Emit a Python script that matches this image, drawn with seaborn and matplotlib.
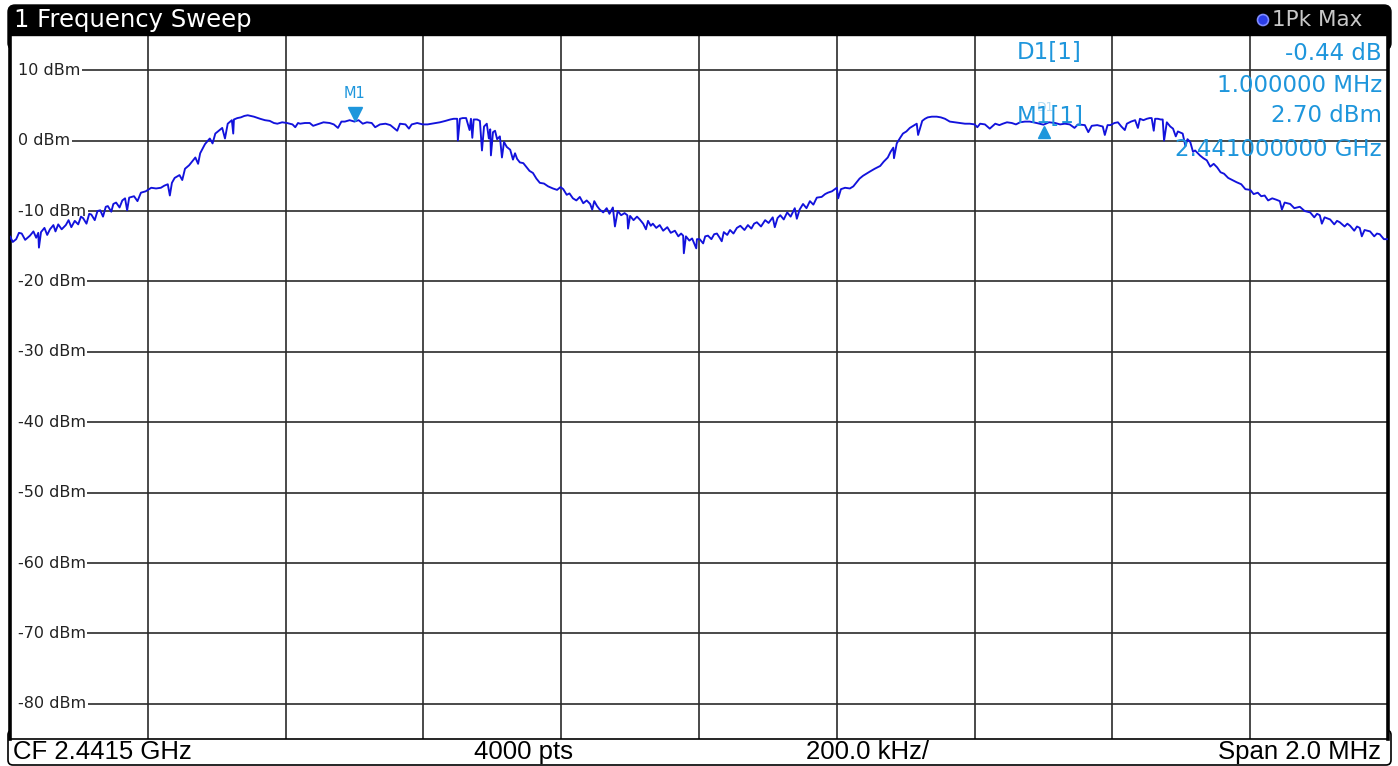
import matplotlib
matplotlib.use("Agg")
import matplotlib.pyplot as plt
import matplotlib.transforms as mtransforms
from matplotlib.patches import FancyBboxPatch, Circle, Rectangle
import pandas as pd
import seaborn as sns

# ---------------- data ----------------
# frequency offset from centre frequency (MHz), CF = 2.4415 GHz, span 2 MHz
offset_mhz = [
    -1.000, -0.996, -0.991, -0.987, -0.983, -0.978, -0.971, -0.966, -0.962, -0.959,
    -0.958, -0.955, -0.950, -0.946, -0.942, -0.937, -0.934, -0.930, -0.925, -0.919,
    -0.915, -0.911, -0.906, -0.901, -0.897, -0.894, -0.889, -0.885, -0.882, -0.877,
    -0.873, -0.869, -0.865, -0.861, -0.858, -0.853, -0.850, -0.846, -0.841, -0.837,
    -0.833, -0.830, -0.827, -0.820, -0.815, -0.810, -0.803, -0.795, -0.788, -0.781,
    -0.776, -0.771, -0.768, -0.765, -0.761, -0.754, -0.750, -0.746, -0.740, -0.735,
    -0.731, -0.727, -0.724, -0.717, -0.710, -0.706, -0.702, -0.692, -0.688, -0.684,
    -0.678, -0.676, -0.675, -0.670, -0.665, -0.660, -0.655, -0.646, -0.637, -0.630,
    -0.623, -0.617, -0.612, -0.605, -0.598, -0.590, -0.586, -0.582, -0.579, -0.572,
    -0.565, -0.560, -0.554, -0.545, -0.536, -0.530, -0.524, -0.519, -0.514, -0.507,
    -0.500, -0.494, -0.488, -0.482, -0.475, -0.470, -0.463, -0.455, -0.448, -0.438,
    -0.434, -0.426, -0.421, -0.417, -0.409, -0.401, -0.394, -0.388, -0.382, -0.376,
    -0.368, -0.361, -0.356, -0.351, -0.350, -0.347, -0.343, -0.338, -0.333, -0.331,
    -0.329, -0.327, -0.322, -0.318, -0.315, -0.312, -0.308, -0.305, -0.303, -0.302,
    -0.299, -0.296, -0.293, -0.289, -0.286, -0.283, -0.279, -0.274, -0.270, -0.267,
    -0.264, -0.260, -0.255, -0.250, -0.246, -0.241, -0.236, -0.231, -0.225, -0.219,
    -0.212, -0.206, -0.201, -0.197, -0.192, -0.188, -0.183, -0.178, -0.173, -0.168,
    -0.163, -0.158, -0.155, -0.152, -0.148, -0.144, -0.139, -0.134, -0.130, -0.125,
    -0.122, -0.118, -0.113, -0.108, -0.104, -0.103, -0.100, -0.095, -0.090, -0.086,
    -0.081, -0.077, -0.074, -0.070, -0.067, -0.062, -0.057, -0.052, -0.046, -0.041,
    -0.035, -0.030, -0.026, -0.023, -0.022, -0.019, -0.014, -0.010, -0.004, -0.003,
    0.001, 0.006, 0.009, 0.013, 0.018, 0.022, 0.026, 0.030, 0.033, 0.036,
    0.041, 0.045, 0.050, 0.055, 0.060, 0.066, 0.071, 0.076, 0.080, 0.084,
    0.090, 0.096, 0.101, 0.107, 0.110, 0.114, 0.118, 0.123, 0.128, 0.133,
    0.139, 0.142, 0.146, 0.151, 0.156, 0.161, 0.166, 0.171, 0.178, 0.183,
    0.187, 0.193, 0.200, 0.202, 0.206, 0.212, 0.219, 0.224, 0.228, 0.233,
    0.238, 0.243, 0.248, 0.255, 0.263, 0.268, 0.274, 0.278, 0.282, 0.283,
    0.287, 0.292, 0.296, 0.301, 0.306, 0.311, 0.316, 0.318, 0.324, 0.328,
    0.332, 0.338, 0.345, 0.351, 0.357, 0.364, 0.371, 0.379, 0.386, 0.393,
    0.400, 0.404, 0.408, 0.415, 0.422, 0.430, 0.436, 0.441, 0.447, 0.454,
    0.460, 0.466, 0.473, 0.480, 0.490, 0.500, 0.508, 0.517, 0.524, 0.531,
    0.538, 0.545, 0.550, 0.560, 0.565, 0.570, 0.578, 0.586, 0.589, 0.593,
    0.597, 0.603, 0.608, 0.613, 0.618, 0.621, 0.627, 0.633, 0.637, 0.640,
    0.645, 0.650, 0.654, 0.657, 0.660, 0.662, 0.666, 0.670, 0.673, 0.675,
    0.679, 0.684, 0.688, 0.692, 0.695, 0.702, 0.706, 0.709, 0.713, 0.717,
    0.720, 0.727, 0.732, 0.737, 0.742, 0.747, 0.752, 0.757, 0.762, 0.768,
    0.774, 0.780, 0.787, 0.793, 0.800, 0.805, 0.811, 0.816, 0.821, 0.826,
    0.832, 0.838, 0.843, 0.846, 0.850, 0.858, 0.864, 0.872, 0.879, 0.887,
    0.893, 0.897, 0.901, 0.904, 0.908, 0.916, 0.922, 0.926, 0.930, 0.937,
    0.941, 0.945, 0.951, 0.955, 0.959, 0.962, 0.966, 0.974, 0.980, 0.984,
    0.988, 0.994, 1.000,
]
level_dbm = [
    -13.6, -14.4, -14.0, -13.1, -13.2, -14.1, -13.5, -12.9, -13.8, -13.1,
    -15.2, -13.0, -12.4, -13.4, -12.6, -12.0, -12.9, -11.9, -12.6, -12.0,
    -11.3, -12.3, -11.4, -11.9, -10.8, -11.0, -11.8, -10.4, -10.5, -11.3,
    -10.0, -9.9, -10.8, -9.4, -9.3, -10.1, -9.0, -8.8, -9.5, -8.5,
    -8.2, -9.9, -8.1, -7.9, -8.6, -7.4, -7.2, -6.7, -6.8, -6.7,
    -6.4, -6.2, -7.8, -6.0, -5.3, -4.9, -5.6, -4.0, -3.5, -2.9,
    -2.4, -3.3, -1.8, -0.5, 0.3, -0.4, 1.0, 1.8, 0.3, 2.4,
    2.9, 1.0, 3.0, 3.2, 3.3, 3.5, 3.6, 3.4, 3.1, 2.9,
    2.8, 2.5, 2.4, 2.6, 2.5, 2.3, 1.9, 2.5, 2.4, 2.5,
    2.5, 2.1, 2.3, 2.6, 2.5, 2.3, 1.8, 2.7, 2.7, 2.9,
    2.70, 2.9, 2.4, 2.6, 2.5, 1.9, 2.3, 2.4, 2.2, 1.4,
    2.4, 2.3, 1.7, 2.3, 2.5, 2.3, 2.3, 2.4, 2.5, 2.6,
    2.8, 3.0, 3.1, 3.1, 0.0, 3.1, 3.2, 3.2, 1.5, 3.1,
    0.4, 3.0, 3.0, 2.8, -1.4, 2.0, 2.4, 0.3, 1.6, -2.1,
    1.2, 1.4, 0.2, 0.6, -2.4, -0.2, -0.9, -1.3, -2.7, -1.8,
    -2.6, -3.1, -3.2, -3.8, -4.3, -4.6, -5.4, -6.0, -6.1, -6.5,
    -6.8, -7.0, -6.6, -6.9, -7.7, -7.5, -8.2, -8.5, -8.0, -8.9,
    -8.5, -9.0, -9.8, -8.6, -9.3, -9.8, -10.2, -9.6, -10.4, -9.5,
    -12.2, -10.0, -10.6, -10.3, -10.6, -12.5, -10.7, -11.3, -10.8, -11.2,
    -11.8, -12.6, -11.4, -12.1, -11.8, -12.4, -12.0, -12.8, -12.3, -13.1,
    -12.8, -13.6, -13.2, -13.5, -16.0, -13.6, -14.2, -13.9, -15.3, -14.0,
    -14.0, -14.6, -13.6, -13.5, -14.0, -13.3, -13.2, -13.8, -14.3, -13.0,
    -13.4, -12.7, -13.2, -12.4, -12.1, -12.7, -12.0, -12.5, -11.8, -11.6,
    -12.2, -11.3, -11.7, -10.9, -12.3, -11.0, -10.6, -11.2, -10.2, -10.8,
    -9.6, -11.1, -9.8, -9.0, -9.6, -8.6, -9.1, -8.1, -8.0, -7.6,
    -7.4, -7.2, -6.7, -8.2, -6.9, -6.7, -6.8, -6.5, -6.0, -5.4,
    -5.0, -4.7, -4.4, -4.0, -3.6, -3.0, -2.4, -1.6, -1.0, -2.5,
    -0.4, 0.4, 1.0, 1.3, 1.8, 2.1, 2.4, 0.8, 2.8, 3.1,
    3.3, 3.4, 3.4, 3.3, 3.1, 2.7, 2.6, 2.5, 2.4, 2.4,
    2.3, 1.9, 2.4, 2.3, 1.7, 2.4, 2.2, 2.4, 2.6, 2.5,
    2.3, 2.6, 2.7, 2.7, 2.5, 2.26, 2.6, 2.5, 2.3, 2.4,
    2.3, 1.8, 2.3, 2.2, 1.2, 2.1, 2.2, 2.0, 0.8, 2.2,
    2.2, 2.5, 2.6, 2.0, 1.5, 2.4, 2.7, 2.9, 1.8, 3.1,
    2.9, 3.1, 3.2, 3.2, 1.4, 3.1, 3.1, 3.0, 3.0, 0.0,
    2.6, 2.0, 1.7, 0.6, 1.3, 1.0, -0.8, 0.2, -0.2, -1.6,
    -1.4, -2.1, -2.5, -2.8, -3.7, -3.3, -3.8, -4.5, -4.7, -5.3,
    -5.6, -5.9, -6.2, -6.9, -7.0, -7.6, -7.4, -7.9, -7.8, -8.5,
    -8.2, -8.4, -8.6, -9.8, -8.8, -9.0, -9.6, -9.4, -10.0, -10.2,
    -10.9, -10.4, -10.6, -11.8, -10.9, -11.2, -11.9, -11.4, -11.6, -12.2,
    -11.8, -12.1, -12.8, -12.2, -12.4, -13.6, -12.7, -12.9, -13.6, -13.2,
    -13.3, -14.0, -14.0,
]

y_ticks = [10, 0, -10, -20, -30, -40, -50, -60, -70, -80]
y_tick_labels = ["10 dBm", "0 dBm", "-10 dBm", "-20 dBm", "-30 dBm",
                 "-40 dBm", "-50 dBm", "-60 dBm", "-70 dBm", "-80 dBm"]
x_grid = [-0.8, -0.6, -0.4, -0.2, 0.0, 0.2, 0.4, 0.6, 0.8]
y_limits = (-85, 15)
x_limits = (-1.0, 1.0)

m1_freq, m1_level = -0.5, 2.70
d1_freq, d1_delta = 0.5, -0.44

title_text = "1 Frequency Sweep"
trace_label = "1Pk Max"
info_left = ["D1[1]", "M1[1]"]
info_right = ["-0.44 dB", "1.000000 MHz", "2.70 dBm", "2.441000000 GHz"]
footer_texts = ["CF 2.4415 GHz", "4000 pts", "200.0 kHz/", "Span 2.0 MHz"]

n = min(len(offset_mhz), len(level_dbm))

# ---------------- styling ----------------
W, H = 1398, 766
TRACE = "#1212DC"
MARK = "#1E96DC"
GRID = "#2b2b2b"

sns.set_style("white")
plt.rcParams["font.family"] = ["DejaVu Sans"]

fig = plt.figure(figsize=(W / 100, H / 100), dpi=100)
fig.patch.set_facecolor("white")

def fx(px):
    return px / W

def fy(py):
    return 1 - py / H

ax_left, ax_right, ax_top, ax_bottom = 10, 1388, 35, 739
ax = fig.add_axes([fx(ax_left), fy(ax_bottom), (ax_right - ax_left) / W,
                   (ax_bottom - ax_top) / H])
ax.set_facecolor("white")

# header / footer bars (display pixel coordinates)
ident = mtransforms.IdentityTransform()
header = FancyBboxPatch((8, H - 50), 1383, 45,
                        boxstyle="round,pad=0,rounding_size=7",
                        facecolor="black", edgecolor="black",
                        transform=ident, zorder=-2)
fig.add_artist(header)
footer = FancyBboxPatch((8, 1), 1383, 35,
                        boxstyle="round,pad=0,rounding_size=5",
                        facecolor="white", edgecolor="black", lw=1.2,
                        transform=ident, zorder=-2)
fig.add_artist(footer)

fig.text(fx(14), fy(20), title_text, color="white", fontsize=17.5,
         ha="left", va="center")
dot = Circle((1263, H - 20), 5.5, transform=ident, facecolor="#2a3de8",
             edgecolor="#7f8cff", lw=1.2, zorder=5)
fig.add_artist(dot)
fig.text(fx(1272), fy(20), trace_label, color="#c8c8c8", fontsize=15.5,
         ha="left", va="center")

# footer texts
ffam = ["Liberation Sans", "DejaVu Sans"]
fig.text(fx(13), fy(752), footer_texts[0], fontsize=18.5, family=ffam,
         ha="left", va="center", color="black")
fig.text(fx(524), fy(752), footer_texts[1], fontsize=18.5, family=ffam,
         ha="center", va="center", color="black")
fig.text(fx(867), fy(752), footer_texts[2], fontsize=18.5, family=ffam,
         ha="center", va="center", color="black")
fig.text(fx(1381), fy(752), footer_texts[3], fontsize=18.5, family=ffam,
         ha="right", va="center", color="black")

# trace
df = pd.DataFrame({"offset": offset_mhz[:n], "level": level_dbm[:n]})
sns.lineplot(data=df, x="offset", y="level", ax=ax, color=TRACE, lw=1.35,
             estimator=None, sort=False, zorder=3)

ax.set_xlim(*x_limits)
ax.set_ylim(*y_limits)
ax.set_xticks(x_grid)
ax.set_yticks(y_ticks)
ax.set_axisbelow(True)
ax.grid(True, color=GRID, lw=1.2)
ax.tick_params(length=0, labelbottom=False, labelleft=False)
ax.set_xlabel("")
ax.set_ylabel("")
for side in ["left", "right"]:
    ax.spines[side].set_color("black")
    ax.spines[side].set_linewidth(2.6)
ax.spines["top"].set_color("black")
ax.spines["top"].set_linewidth(1.0)
ax.spines["bottom"].set_color("black")
ax.spines["bottom"].set_linewidth(1.2)

# in-plot y tick labels (white box hides the grid line behind them)
lab_tr = mtransforms.blended_transform_factory(ax.transAxes, ax.transData)
for v, lab in zip(y_ticks, y_tick_labels):
    ax.add_patch(Rectangle((0, v - 1.2), 0.008, 2.4, transform=lab_tr,
                           facecolor="white", edgecolor="none", zorder=1.5))
    ax.text(0.0058, v, lab, transform=lab_tr,
            ha="left", va="center", fontsize=11.5, color="#222222",
            bbox=dict(facecolor="white", edgecolor="none", pad=1.0), zorder=2)

# markers
m1_tr = mtransforms.offset_copy(ax.transData, fig=fig, x=0, y=8, units="dots")
ax.plot([m1_freq], [m1_level], marker="v", ms=9.5, color=MARK, transform=m1_tr,
        zorder=6, ls="none")
ax.annotate("M1", (m1_freq, m1_level), xytext=(0, 28), textcoords="offset pixels",
            ha="center", va="center", fontsize=10.5, color=MARK, zorder=6)
d1_level = m1_level + d1_delta
d1_tr = mtransforms.offset_copy(ax.transData, fig=fig, x=0, y=-7, units="dots")
ax.plot([d1_freq], [d1_level], marker="^", ms=9, color=MARK, transform=d1_tr,
        zorder=6, ls="none")
ax.annotate("D1", (d1_freq, d1_level), xytext=(2, 17), textcoords="offset pixels",
            ha="center", va="center", fontsize=9, color=MARK, alpha=0.35, zorder=6)

# marker info panel
def axx(px):
    return (px - ax_left) / (ax_right - ax_left)

def axy(py):
    return 1 - (py - ax_top) / (ax_bottom - ax_top)

ax.text(axx(1017), axy(53), info_left[0], transform=ax.transAxes, fontsize=16.5,
        color=MARK, ha="left", va="center", zorder=7)
ax.text(axx(1017), axy(116), info_left[1], transform=ax.transAxes, fontsize=16.5,
        color=MARK, ha="left", va="center", zorder=7)
for py, txt in zip([53, 85, 116, 149], info_right):
    ax.text(axx(1382), axy(py), txt, transform=ax.transAxes, fontsize=16.5,
            color=MARK, ha="right", va="center", zorder=7)

fig.savefig("out.png", dpi=100)
